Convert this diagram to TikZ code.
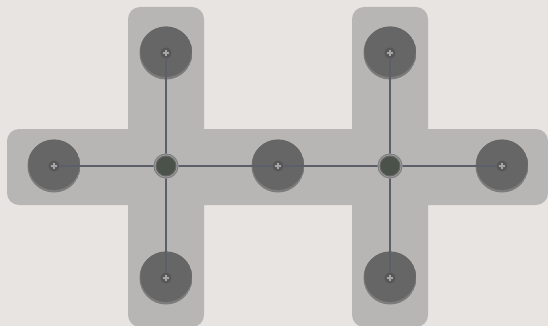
\documentclass[tikz,border=0pt]{standalone}
\definecolor{bgc}{HTML}{E7E4E1}
\definecolor{barc}{HTML}{B8B6B5}
\definecolor{linec}{HTML}{5A5F6A}
\definecolor{ballc}{HTML}{666666}
\definecolor{ballrim}{HTML}{7C7C7C}
\definecolor{markc}{HTML}{575757}
\definecolor{junc}{HTML}{4B5249}
\tikzset{
  bar/.style={fill=barc, draw=none, rounded corners=12pt},
  screw/.style={circle, minimum size=12pt, inner sep=0pt, fill=markc, draw=black!60, line width=0.9pt},
  junction/.style={circle, minimum size=20pt, inner sep=0pt, fill=junc, draw=black!60, line width=1pt},
  jring/.style={draw=black!50, line width=1pt},
  link/.style={draw=linec, line width=1.8pt},
}
\begin{document}
\begin{tikzpicture}[x=1pt,y=-1pt]
\fill[bgc] (0,0) rectangle (548,326);
\useasboundingbox (0,0) rectangle (548,326);
% bars
\fill[bar] (7,129) rectangle (548,205);
\fill[bar] (128,7) rectangle (204,327);
\fill[bar] (352,7) rectangle (428,327);
% balls
\foreach \n/\x/\y in {l/54/166, t1/166/53, b1/166/278, m/278/166, t2/390/53, b2/390/278, r/502/166}{
  \begin{scope}
    \clip (\x,\y) circle (26.5pt);
    \fill[ballrim] (\x,\y) circle (26.5pt);
    \fill[ballc] (\x,\y-1.8) circle (25.8pt);
  \end{scope}
  \node[screw] (\n) at (\x,\y) {};
  \draw[gray!70, line width=1.1pt] (\x-3.2,\y) -- (\x+3.2,\y) (\x,\y-3.2) -- (\x,\y+3.2);
}
\coordinate (j1c) at (166,166);
\coordinate (j2c) at (390,166);
% links
\draw[link] (l) -- (j1c);
\draw[link] (t1) -- (j1c);
\draw[link] (b1) -- (j1c);
\draw[link] (m) -- (j1c);
\draw[link] (m) -- (j2c);
\draw[link] (t2) -- (j2c);
\draw[link] (b2) -- (j2c);
\draw[link] (r) -- (j2c);
\fill[gray!75] (j1c) circle (12.5pt);
\fill[gray!75] (j2c) circle (12.5pt);
\draw[jring] (j1c) circle (12pt);
\draw[jring] (j2c) circle (12pt);
\node[junction] (j1) at (j1c) {};
\node[junction] (j2) at (j2c) {};
\end{tikzpicture}
\end{document}
